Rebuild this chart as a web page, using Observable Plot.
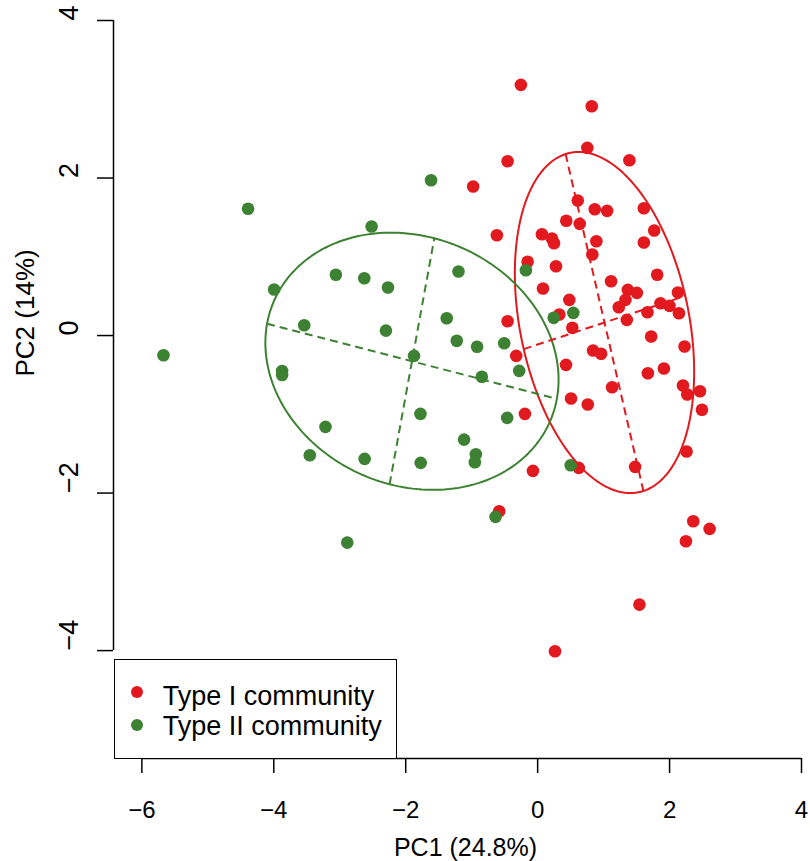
<!DOCTYPE html>
<html><head><meta charset="utf-8">
<script src="https://cdn.jsdelivr.net/npm/d3@7"></script>
<script src="https://cdn.jsdelivr.net/npm/@observablehq/plot@0.6"></script>
<style>
body{margin:0;background:#fff;font-family:"Liberation Sans",Arial,Helvetica,sans-serif;}
#wrap{position:relative;width:810px;height:861px;overflow:hidden;}
#legend{position:absolute;left:114px;top:659px;width:283px;height:100px;box-sizing:border-box;border:1.5px solid #000;background:#fff;}
.row{position:absolute;left:0;height:30px;line-height:30px;font-size:27px;white-space:nowrap;color:#000;}
.sw{position:absolute;width:12px;height:12px;border-radius:50%;}
</style></head>
<body><div id="wrap"></div>
<script>
const groups = ["Type I community", "Type II community"];
const colors = ["#E2191E", "#3C8232"];
const xTicks = [-6, -4, -2, 0, 2, 4];
const yTicks = [-4, -2, 0, 2, 4];
const xLabel = "PC1 (24.8%)";
const yLabel = "PC2 (14%)";

const typeIx = [-0.254,0.820,0.753,1.391,-0.456,-0.978,0.608,0.866,1.053,1.610,
  0.434,0.638,-0.618,1.767,0.065,0.217,0.248,0.890,1.610,0.829,
  -0.152,0.278,1.113,1.812,0.081,1.367,1.504,2.127,0.480,1.331,
  1.230,1.862,1.999,2.142,1.665,1.352,0.328,-0.456,0.526,1.721,
  2.227,-0.325,0.840,0.962,0.430,1.671,1.914,1.129,2.203,2.268,
  2.461,2.491,0.506,0.760,-0.193,2.257,-0.071,0.623,1.478,-0.583,
  2.359,2.248,2.607,1.543,0.263];
const typeIy = [3.183,2.912,2.383,2.226,2.213,1.892,1.714,1.604,1.583,1.617,
  1.457,1.418,1.274,1.333,1.286,1.232,1.172,1.197,1.181,1.029,
  0.936,0.880,0.690,0.771,0.597,0.580,0.542,0.546,0.453,0.453,
  0.359,0.410,0.377,0.283,0.296,0.199,0.267,0.182,0.098,-0.013,
  -0.140,-0.258,-0.190,-0.232,-0.372,-0.479,-0.419,-0.657,-0.635,-0.749,
  -0.707,-0.943,-0.800,-0.876,-0.994,-1.473,-1.718,-1.680,-1.667,-2.231,
  -2.358,-2.612,-2.455,-3.416,-4.009];
const typeIIx = [-4.390,-2.517,-3.059,-2.628,-2.269,-3.995,-3.539,-2.300,-5.672,-3.874,
  -3.874,-1.616,-0.178,-1.200,0.243,0.541,-1.378,-1.226,-0.918,-0.507,
  -1.874,-0.280,-0.846,-1.777,-0.462,-1.115,-0.937,-0.952,-1.773,0.501,
  -0.638,-3.216,-3.454,-2.623,-2.886];
const typeIIy = [1.609,1.384,0.771,0.728,0.610,0.584,0.131,0.063,-0.250,-0.450,
  -0.500,1.972,0.829,0.813,0.225,0.288,0.220,-0.067,-0.143,-0.098,
  -0.258,-0.448,-0.524,-0.994,-1.045,-1.321,-1.507,-1.609,-1.617,-1.647,
  -2.302,-1.159,-1.520,-1.566,-2.629];

const ellipseScale = 1.5; // ade4 s.class cellipse

const series = [[typeIx, typeIy], [typeIIx, typeIIy]];
const points = series.flatMap(([xs, ys], g) => xs.map((x, i) => ({group: groups[g], x, y: ys[i]})));

// data ellipses (population covariance, cellipse = 1.5) and their axes
const ellipses = [], axes = [];
series.forEach(([xs, ys], g) => {
  const n = xs.length, mx = d3.mean(xs), my = d3.mean(ys);
  let sxx = 0, syy = 0, sxy = 0;
  for (let i = 0; i < n; i++) { const dx = xs[i]-mx, dy = ys[i]-my; sxx += dx*dx; syy += dy*dy; sxy += dx*dy; }
  sxx /= n; syy /= n; sxy /= n;
  const tr = sxx + syy, det = sxx*syy - sxy*sxy, disc = Math.sqrt(tr*tr/4 - det);
  const l1 = tr/2 + disc, l2 = tr/2 - disc;
  const th = 0.5 * Math.atan2(2*sxy, sxx - syy);
  const a = ellipseScale*Math.sqrt(l1), b = ellipseScale*Math.sqrt(l2);
  const ux = Math.cos(th), uy = Math.sin(th), vx = -uy, vy = ux;
  for (let k = 0; k <= 200; k++) {
    const t = 2*Math.PI*k/200, c = Math.cos(t), s = Math.sin(t);
    ellipses.push({group: groups[g], x: mx + a*c*ux + b*s*vx, y: my + a*c*uy + b*s*vy});
  }
  axes.push({group: groups[g], x1: mx - a*ux, y1: my - a*uy, x2: mx + a*ux, y2: my + a*uy});
  axes.push({group: groups[g], x1: mx - b*vx, y1: my - b*vy, x2: mx + b*vx, y2: my + b*vy});
});

const fmt = d => d < 0 ? "\u2212" + Math.abs(d) : String(d);
const xDomain = [-6.43, 4], yDomain = [-5.37, 4];

const chart = Plot.plot({
  width: 810, height: 861,
  marginLeft: 113, marginRight: 9, marginTop: 20, marginBottom: 103,
  style: {fontFamily: "'Liberation Sans', Arial, Helvetica, sans-serif", background: "#fff", color: "#000"},
  x: {domain: xDomain, axis: null},
  y: {domain: yDomain, axis: null},
  color: {domain: groups, range: colors},
  marks: [
    Plot.dot(points, {x: "x", y: "y", fill: "group", r: 6.3, stroke: "none"}),
    Plot.line(ellipses, {x: "x", y: "y", z: "group", stroke: "group", strokeWidth: 2}),
    Plot.link(axes, {x1: "x1", y1: "y1", x2: "x2", y2: "y2", stroke: "group", strokeWidth: 2, strokeDasharray: "8,5"}),
    // axes
    Plot.ruleY([yDomain[0]], {x1: d3.min(xTicks), x2: d3.max(xTicks), stroke: "#000", strokeWidth: 1.5}),
    Plot.ruleX([xDomain[0]], {y1: d3.min(yTicks), y2: d3.max(yTicks), stroke: "#000", strokeWidth: 1.5}),
    Plot.axisX(xTicks, {anchor: "bottom", tickSize: 15, tickFormat: () => "", label: null, stroke: "#000", strokeWidth: 1.5}),
    Plot.axisY(yTicks, {anchor: "left", tickSize: 16, tickFormat: () => "", label: null, stroke: "#000", strokeWidth: 1.5}),
    Plot.text(xTicks, {x: d => d, text: fmt, frameAnchor: "bottom", lineAnchor: "bottom", dy: 59, fontSize: 24, fill: "#000"}),
    Plot.text(yTicks, {y: d => d, text: fmt, frameAnchor: "left", lineAnchor: "bottom", rotate: -90, dx: -36, fontSize: 27, fill: "#000"}),
    Plot.text([xLabel], {text: d => d, frameAnchor: "bottom", lineAnchor: "bottom", dx: 8, dy: 97, fontSize: 25, fill: "#000"}),
    Plot.text([yLabel], {text: d => d, frameAnchor: "left", lineAnchor: "bottom", rotate: -90, dx: -80, dy: -13, fontSize: 26, fill: "#000"})
  ]
});

const wrap = document.getElementById("wrap");
wrap.appendChild(chart);

const legend = document.createElement("div");
legend.id = "legend";
groups.forEach((g, i) => {
  const sw = document.createElement("span");
  sw.className = "sw";
  sw.style.background = colors[i];
  sw.style.left = (23.7 - 6 - 1.5) + "px";
  sw.style.top = (33.3 + i * 32.7 - 6 - 1.5) + "px";
  legend.appendChild(sw);
  const row = document.createElement("div");
  row.className = "row";
  row.style.left = (49.3 - 1.5) + "px";
  row.style.top = (22 + i * 30.5 - 1.5) + "px";
  row.textContent = g;
  legend.appendChild(row);
});
wrap.appendChild(legend);
</script>
</body></html>
